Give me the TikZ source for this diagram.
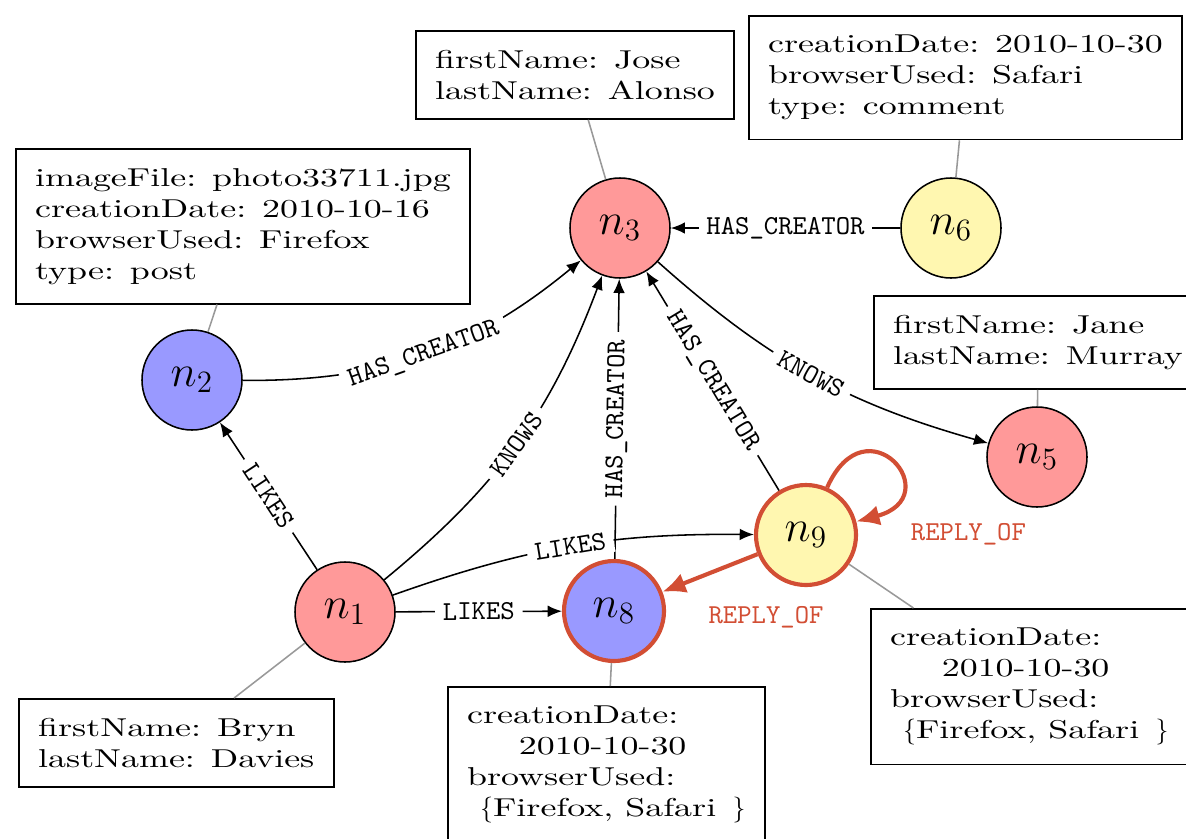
\documentclass[tikz,border=0pt]{standalone}
\usepackage[no-math]{fontspec}
\setmainfont{Latin Modern Roman}[FakeStretch=1.39]
\usetikzlibrary{arrows.meta}
\definecolor{personfill}{HTML}{FF9999}
\definecolor{postfill}{HTML}{9999FF}
\definecolor{commentfill}{HTML}{FFF7B0}
\definecolor{replycol}{HTML}{D24E34}
\begin{document}
\begin{tikzpicture}[x=0.387pt,y=0.387pt,
	vertex/.style={circle,draw,semithick,minimum size=38.7pt,inner sep=0pt,font=\LARGE},
	person/.style={vertex,fill=personfill},
	post/.style={vertex,fill=postfill},
	comment/.style={vertex,fill=commentfill},
	replied/.style={draw=replycol,line width=1.6pt},
	infobox/.style={draw,semithick,rectangle,align=left,inner sep=7.5pt,anchor=north west},
	pinline/.style={black!40,semithick},
	rel/.style={-{Latex[length=5.5pt,width=4.5pt]},semithick},
	replyrel/.style={-{Latex[length=9pt,width=8pt]},draw=replycol,line width=1.6pt},
	lbl/.style={font=\fontsize{10.6}{12}\ttfamily,fill=white,inner xsep=3pt,inner ysep=1.5pt,sloped},
	replylbl/.style={font=\fontsize{10.6}{12}\ttfamily,text=replycol}]
	\useasboundingbox (0,-838) rectangle (1186,0);
	\clip (0,-838) rectangle (1186,0);

	\node[person] (n1) at (345,-612) {$n_1$};
	\node[post] (n2) at (192,-380) {$n_2$};
	\node[person] (n3) at (620,-228) {$n_3$};
	\node[person] (n5) at (1037,-457) {$n_5$};
	\node[comment] (n6) at (951,-228) {$n_6$};
	\node[post,replied] (n8) at (614,-611) {$n_8$};
	\node[comment,replied] (n9) at (806,-535) {$n_9$};

	% property boxes
	\node[infobox] (p1) at (18,-698) {firstName: Bryn\\lastName: Davies};
	\node[infobox] (p2) at (15,-148) {imageFile: photo33711.jpg\\creationDate: 2010-10-16\\browserUsed: Firefox\\type: post};
	\node[infobox] (p3) at (415,-30) {firstName: Jose\\lastName: Alonso};
	\node[infobox] (p5) at (873,-295) {firstName: Jane\\lastName: Murray};
	\node[infobox] (p6) at (748,-15) {creationDate: 2010-10-30\\browserUsed: Safari\\type: comment};
	\node[infobox] (p8) at (447,-686) {creationDate:\\\hspace*{2em}2010-10-30\\browserUsed:\\\hspace*{.5em}$\{$Firefox, Safari\ \,$\}$};
	\node[infobox] (p9) at (870,-608) {creationDate:\\\hspace*{2em}2010-10-30\\browserUsed:\\\hspace*{.5em}$\{$Firefox, Safari\ \,$\}$};

	\draw[pinline] (n1) -- (p1);
	\draw[pinline] (n2) -- (p2);
	\draw[pinline] (n3) -- (p3);
	\draw[pinline] (n5) -- (p5);
	\draw[pinline] (n6) -- (p6);
	\draw[pinline] (n8) -- (p8);
	\draw[pinline] (n9) -- (p9);

	% relationships
	\draw[rel] (n6) -- node[lbl] {HAS\_CREATOR} (n3);
	\draw[rel] (n2) to[bend right=20] node[lbl] {HAS\_CREATOR} (n3);
	\draw[rel] (n1) -- node[lbl] {LIKES} (n2);
	\draw[rel] (n1) to[bend right=15] node[lbl] {KNOWS} (n3);
	\draw[rel] (n8) -- node[lbl] {HAS\_CREATOR} (n3);
	\draw[rel] (n9) -- node[lbl] {HAS\_CREATOR} (n3);
	\draw[rel] (n3) to[bend right=13] node[lbl] {KNOWS} (n5);
	\draw[rel] (n1) to[bend left=10] node[lbl] {LIKES} (n9);
	\draw[rel] (n1) -- node[lbl] {LIKES} (n8);
	\draw[replyrel] (n9) -- node[replylbl,pos=0.02,below=16pt,xshift=4pt] {REPLY\_OF} (n8);
	\draw[replyrel] (n9) to[out=66,in=15,looseness=5.5] node[replylbl,at end,right=17pt,yshift=-5pt] {REPLY\_OF} (n9);
\end{tikzpicture}
\end{document}
